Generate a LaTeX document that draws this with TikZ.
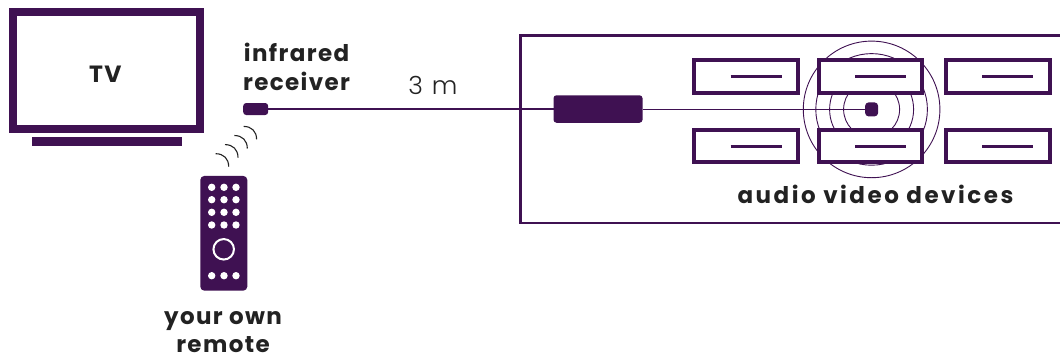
\documentclass[tikz,border=0pt]{standalone}
\usepackage{fontspec}
\setmainfont{Poppins}[Scale=1.0]
\newfontfamily\labelfont{Poppins}[UprightFont=* Bold,LetterSpace=6]
\newfontfamily\widefont{Poppins}[UprightFont=* Bold,LetterSpace=11]
\newfontfamily\thinfont{Poppins}[UprightFont=* Light,LetterSpace=8]
\definecolor{plum}{HTML}{3F1152}
\definecolor{ink}{HTML}{222222}
\tikzset{
  x=1pt,y=-1pt,
  every node/.style={outer sep=0,inner sep=0},
  tvframe/.style={draw=plum,line width=8pt,fill=white,rectangle,minimum width=186.5pt,minimum height=117pt},
  solid part/.style={fill=plum,rectangle,rounded corners=#1},
  solid part/.default=2pt,
  device/.style={draw=plum,line width=4pt,fill=white,rectangle,minimum width=103.5pt,minimum height=32.5pt},
  devline/.style={draw=plum,line width=3pt},
  wave/.style={draw=ink,line width=1.1pt},
  ripple/.style={draw=plum,line width=.9pt,circle},
  key/.style={circle,fill=white,minimum size=7.4pt},
  lbl/.style={text=ink,font=\labelfont\fontsize{23}{29.4}\selectfont,align=center},
}
\newcommand{\devbox}[3]{%
  \node[device] (#1) at (#2,#3) {};
  \draw[devline] ([xshift=-15.5pt]#1.center) -- ([xshift=35.5pt]#1.center);
}
\begin{document}
\begin{tikzpicture}
\useasboundingbox (0,0) rectangle (1060,360);
% TV
\node[tvframe] (tv) at (106.7,70.5) {};
\node[solid part=0pt,minimum width=150pt,minimum height=9pt] (stand) at (107,141.5) {};
\node[lbl,font=\labelfont\fontsize{23.5}{29}\selectfont] (tvlabel) at (105.4,74) {TV};
% cabinet
\coordinate (cabtr) at (1060,35.5);
\coordinate (cabbr) at (1060,223);
\coordinate (cabbl) at (520.5,223);
\draw[plum,line width=2.5pt] (cabtr) -| (cabbl) -- (cabbr);
% receiver and emitter
\node[solid part=3pt,minimum width=25pt,minimum height=12pt] (receiver) at (255.7,109) {};
\node[solid part=3pt,minimum width=89pt,minimum height=27.5pt] (dongle) at (598,109) {};
\node[solid part=3.5pt,minimum width=13pt,minimum height=14pt] (emitter) at (871.6,109.4) {};
\draw[plum,line width=2.4pt] (receiver.east) -- (dongle.west);
% ripples
\foreach \r/\n in {68.3/a,55.8/b,42/c,28/d}
  \node[ripple,minimum size=2*\r pt] (ring\n) at (emitter.center) {};
\draw[plum,line width=1pt] (dongle.east) -- (emitter.center |- dongle.east);
% devices
\devbox{d1}{746}{76.5}
\devbox{d2}{870.7}{76.5}
\devbox{d3}{997.8}{76.5}
\devbox{d4}{746}{146}
\devbox{d5}{870.7}{146}
\devbox{d6}{997.8}{146}
% labels
\node[lbl,anchor=center] (irlabel) at (296.6,66.8) {infrared\\receiver};
\node[text=ink,font=\thinfont\fontsize{25}{28}\selectfont] (dist) at (433,85) {3 m};
\node[lbl,font=\widefont\fontsize{23}{29}\selectfont] (avlabel) at (875.5,194) {audio video devices};
% waves
\foreach \i in {0,1,2,3}{
  \coordinate (wa\i) at (215.7+9.3*\i,153.7-9.1*\i);
  \coordinate (wb\i) at (228.7+9.3*\i,166.7-9.1*\i);
  \draw[wave] (wa\i) .. controls ([xshift=8pt]wa\i) and ([yshift=8pt]wb\i) .. (wb\i);
}
% remote
\node[solid part=4pt,minimum width=47pt,minimum height=114.7pt] (remote) at (223.8,233.3) {};
\foreach \yy [count=\j] in {187.3,199.7,212.3,225,275.7}
  \foreach \xx [count=\k] in {211.7,224,236}
    \node[key] (key\j\k) at (\xx,\yy) {};
\node[draw=white,line width=2pt,circle,minimum size=20.5pt] (ring) at (223.7,249.3) {};
\node[lbl,font=\labelfont\fontsize{23}{28.6}\selectfont] (ownlabel) at (223,332) {your own\\remote};
\end{tikzpicture}
\end{document}
